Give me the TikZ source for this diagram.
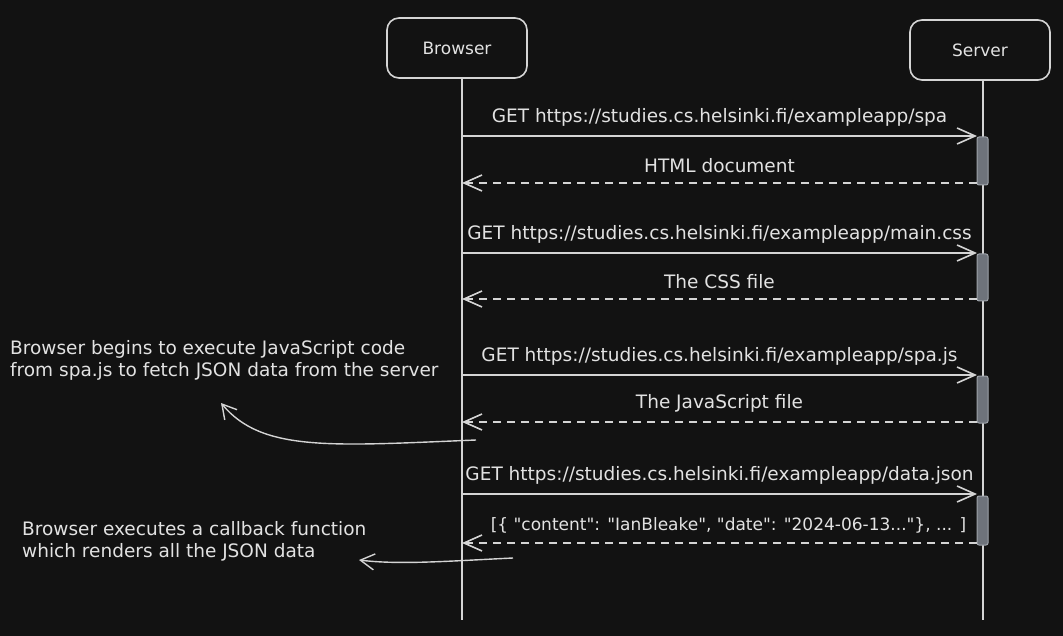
\documentclass[tikz,border=0pt]{standalone}
\usepackage{fontspec}
\setmainfont{DejaVu Sans}[Ligatures=TeXOff]
\usetikzlibrary{arrows.meta}
\definecolor{bg}{HTML}{121212}
\definecolor{ink}{HTML}{D4D4D4}
\definecolor{txt}{HTML}{E2E2E2}
\definecolor{actfill}{HTML}{6E737B}
\definecolor{actline}{HTML}{9EA3AA}
\begin{document}
\begin{tikzpicture}[x=1pt,y=-1pt,
  font=\fontsize{18.5}{22}\selectfont,
  every node/.style={text=txt},
  actor/.style={draw=ink,line width=1.6pt,rounded corners=12pt,minimum width=140pt,minimum height=60pt,fill=bg,font=\fontsize{17}{20}\selectfont},
  life/.style={draw=ink,line width=1.6pt},
  call/.style={draw=ink,line width=1.6pt,-{Straight Barb[length=18pt,width=16pt,line width=1.6pt]}},
  reply/.style={call,dash pattern=on 8pt off 6pt},
  note arrow/.style={draw=ink,line width=1.4pt,-{Straight Barb[length=14pt,width=16pt,line width=1.4pt]}},
  act/.style={fill=actfill,draw=actline,line width=1pt,rounded corners=2pt},
  msg/.style={midway,above=9pt,inner sep=0pt},
  note/.style={align=left,anchor=north west,inner sep=0pt}]
\fill[bg] (0,0) rectangle (1063,636);
\useasboundingbox (0,0) rectangle (1063,636);

% participants
\node[actor] (browser) at (457,48) {Browser};
\node[actor] (server) at (980,50) {Server};

% lifelines
\coordinate (bend) at (462,620);
\coordinate (send) at (983,620);
\draw[life] (browser.south -| bend) -- (bend);
\draw[life] (server.south -| send) -- (send);

% activation bars
\foreach \ya/\yb in {137/185, 254/301, 376/423, 496/545}
  \draw[act] (977,\ya) rectangle (988,\yb);

% message endpoints on the lifelines
\foreach \n/\y in {1/136, 2/183, 3/253, 4/299, 5/375, 6/422, 7/494, 8/543}{
  \coordinate (b\n) at (462,\y);
  \coordinate (s\n) at (977,\y);
}

\draw[call] (b1) -- (s1) node[msg] {GET https://studies.cs.helsinki.fi/exampleapp/spa};
\draw[reply] (s2) -- (b2) node[msg] {HTML document};
\draw[call] (b3) -- (s3) node[msg] {GET https://studies.cs.helsinki.fi/exampleapp/main.css};
\draw[reply] (s4) -- (b4) node[msg] {The CSS file};
\draw[call] (b5) -- (s5) node[msg] {GET https://studies.cs.helsinki.fi/exampleapp/spa.js};
\draw[reply] (s6) -- (b6) node[msg] {The JavaScript file};
\draw[call] (b7) -- (s7) node[msg] {GET https://studies.cs.helsinki.fi/exampleapp/data.json};
\draw[reply] (s8) -- (b8) node[msg,xshift=9pt,font=\fontsize{17}{20}\selectfont] {[\{ "content": "IanBleake", "date": "2024-06-13..."\}, ... ]};

% notes
\node[note] (n1) at (10,340) {Browser begins to execute JavaScript code\\from spa.js to fetch JSON data from the server};
\node[note] (n2) at (22,521) {Browser executes a callback function\\which renders all the JSON data};
\coordinate (n1from) at (476,440);
\coordinate (n1to) at (221,403);
\coordinate (n2from) at (513,558);
\coordinate (n2to) at (359,560);
\draw[note arrow] (n1from) .. controls (330,446) and (262,452) .. (n1to);
\draw[note arrow] (n2from) .. controls (450,561) and (400,565) .. (n2to);
\end{tikzpicture}
\end{document}
